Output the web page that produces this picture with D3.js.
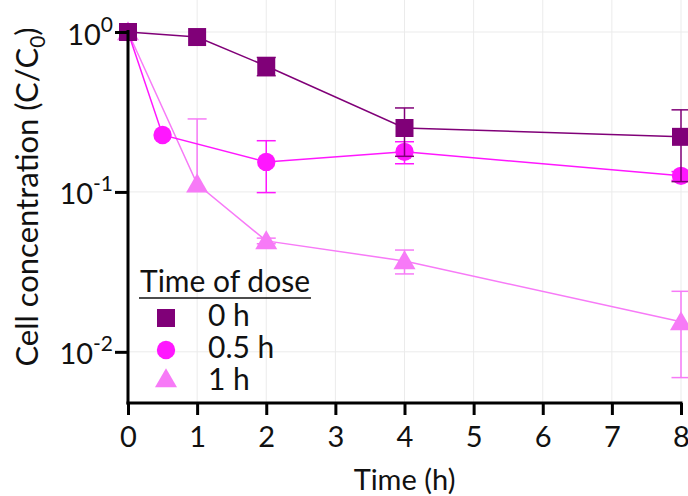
<!DOCTYPE html>
<html><head><meta charset="utf-8">
<script src="https://cdn.jsdelivr.net/npm/d3@7"></script>
<style>body{margin:0;background:#fff}svg{display:block}text{font-family:Lato,"Open Sans",sans-serif;fill:#111}</style>
</head><body><svg id="c" width="688" height="496"></svg>
<script>
const xTicks = [0,1,2,3,4,5,6,7,8];
const yTickExps = [0,-1,-2];
const seriesNames = ["0 h","0.5 h","1 h"];
const seriesColors = ["#800078","#ff17ff","#f77af7"];
const seriesShapes = ["square","circle","triangle"];
const x0h = [0,1,2,4,8];
const y0h = [1.0,0.93,0.613,0.251,0.221];
const e0h = [0,0,0.08,0.084,0.105];
const x05h = [0,0.5,2,4,8];
const y05h = [1.0,0.227,0.154,0.178,0.126];
const e05h = [0,0,0.055,0.028,0.008];
const x1h = [0,1,2,4,8];
const y1h = [1.0,0.112,0.0494,0.037,0.0154];
const e1h = [0,0.174,0.002,0.0063,0.0085];

const series = [
  {name:seriesNames[0],color:seriesColors[0],shape:seriesShapes[0],x:x0h,y:y0h,e:e0h},
  {name:seriesNames[1],color:seriesColors[1],shape:seriesShapes[1],x:x05h,y:y05h,e:e05h},
  {name:seriesNames[2],color:seriesColors[2],shape:seriesShapes[2],x:x1h,y:y1h,e:e1h}
];

const svg = d3.select("#c");
const X = d3.scaleLinear().domain([0,8]).range([128,681]);
const Y = d3.scaleLog().domain([Math.pow(10,-2.32),1]).range([403,32]);

// gridlines
const g = svg.append("g");
g.selectAll(".vg").data(xTicks.slice(1)).join("line")
  .attr("x1",d=>X(d)).attr("x2",d=>X(d)).attr("y1",0).attr("y2",403)
  .attr("stroke","#ebebeb").attr("stroke-width",1);
g.selectAll(".hg").data(yTickExps).join("line")
  .attr("x1",128).attr("x2",688).attr("y1",d=>Y(Math.pow(10,d))).attr("y2",d=>Y(Math.pow(10,d)))
  .attr("stroke","#ebebeb").attr("stroke-width",1);

function symbolFor(shape){
  if(shape==="square") return d3.symbol().type(d3.symbolSquare).size(324)();
  if(shape==="circle") return d3.symbol().type(d3.symbolCircle).size(265)();
  return d3.symbol().type(d3.symbolTriangle).size(210)();
}

const plot = svg.append("g");
[2,1,0].forEach(i=>{
  const s = series[i];
  const pts = s.x.map((xv,j)=>({x:xv,y:s.y[j],e:s.e[j]}));
  const sg = plot.append("g");
  sg.append("path").datum(pts)
    .attr("d",d3.line().x(d=>X(d.x)).y(d=>Y(d.y)))
    .attr("fill","none").attr("stroke",s.color).attr("stroke-width",1.5);
  const eb = sg.selectAll(".eb").data(pts.filter(d=>d.e>0)).join("g");
  eb.append("line").attr("x1",d=>X(d.x)).attr("x2",d=>X(d.x))
    .attr("y1",d=>Y(d.y+d.e)).attr("y2",d=>d.y-d.e>0?Y(d.y-d.e):Y(d.y))
    .attr("stroke",s.color).attr("stroke-width",1.5);
  eb.append("line").attr("x1",d=>X(d.x)-9.5).attr("x2",d=>X(d.x)+9.5)
    .attr("y1",d=>Y(d.y+d.e)).attr("y2",d=>Y(d.y+d.e))
    .attr("stroke",s.color).attr("stroke-width",1.5);
  eb.filter(d=>d.y-d.e>0).append("line").attr("x1",d=>X(d.x)-9.5).attr("x2",d=>X(d.x)+9.5)
    .attr("y1",d=>Y(d.y-d.e)).attr("y2",d=>Y(d.y-d.e))
    .attr("stroke",s.color).attr("stroke-width",1.5);
  sg.selectAll(".m").data(pts).join("path")
    .attr("d",symbolFor(s.shape))
    .attr("transform",d=>`translate(${X(d.x)},${Y(d.y) + (s.shape==="triangle"?2:0)})`)
    .attr("fill",s.color);
});

// axes
const xa = svg.append("g").attr("transform","translate(0,403)")
  .call(d3.axisBottom(X).tickValues(xTicks).tickFormat(d3.format("d")).tickSize(12).tickPadding(11));
xa.select(".domain").attr("stroke","#000").attr("stroke-width",3).attr("d","M126.5,0H682.5");
xa.selectAll(".tick line").attr("stroke","#000").attr("stroke-width",3);
xa.selectAll(".tick text").style("font-size","29px").style("font-family","Lato,sans-serif").attr("fill","#111");

const ya = svg.append("g").attr("transform","translate(128,0)")
  .call(d3.axisLeft(Y).tickValues(yTickExps.map(e=>Math.pow(10,e))).tickFormat("").tickSize(13));
ya.select(".domain").attr("stroke","#000").attr("stroke-width",3).attr("d","M0,30V404.5");
ya.selectAll(".tick line").attr("stroke","#000").attr("stroke-width",3);
ya.selectAll(".tick").each(function(d,i){
  const t = d3.select(this).append("text").attr("x",-15).attr("y",12)
    .attr("text-anchor","end").style("font-size","29px").attr("fill","#111");
  t.append("tspan").text("10");
  t.append("tspan").attr("dy",-13).style("font-size","21px").text(String(yTickExps[i]));
});

// axis titles
svg.append("text").attr("x",X(4)).attr("y",490).attr("text-anchor","middle")
  .style("font-size","29px").text("Time (h)");
const yt = svg.append("text").attr("transform","translate(38,197) rotate(-90)")
  .attr("text-anchor","middle").style("font-size","31px");
yt.append("tspan").text("Cell concentration (C/C");
yt.append("tspan").attr("dy",7).style("font-size","21px").text("0");
yt.append("tspan").attr("dy",-7).text(")");

// legend
const lg = svg.append("g");
const lt = lg.append("text").attr("x",140).attr("y",292).style("font-size","30px").text("Time of dose");
const lw = lt.node().getComputedTextLength();
lg.append("line").attr("x1",139).attr("x2",141+lw).attr("y1",298).attr("y2",298)
  .attr("stroke","#111").attr("stroke-width",1.5);
const ly = [318,350,381];
const lb = [326,358,390];
series.forEach((s,i)=>{
  lg.append("path").attr("d",symbolFor(s.shape))
    .attr("transform",`translate(166,${ly[i]})`).attr("fill",s.color);
  lg.append("text").attr("x",208).attr("y",lb[i]).style("font-size","30px").text(s.name);
});
</script></body></html>
